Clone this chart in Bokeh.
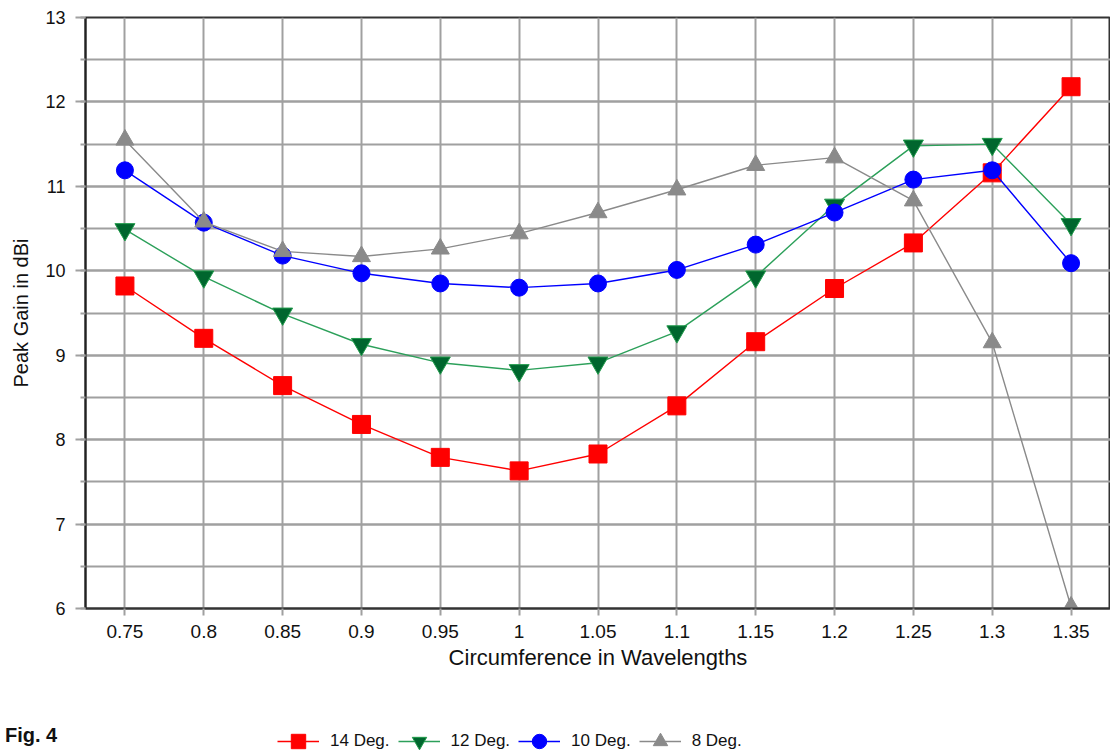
from bokeh.plotting import figure
from bokeh.layouts import column, row
from bokeh.models import (FactorRange, Range1d, SingleIntervalTicker, Legend, LegendItem,
                          ColumnDataSource, Div)
from bokeh.embed import file_html
from bokeh.resources import INLINE

categories = ["0.75", "0.8", "0.85", "0.9", "0.95", "1", "1.05", "1.1", "1.15", "1.2", "1.25", "1.3", "1.35"]
deg14 = [9.82, 9.20, 8.64, 8.18, 7.79, 7.63, 7.83, 8.40, 9.16, 9.79, 10.33, 11.16, 12.18]
deg12 = [10.49, 9.93, 9.49, 9.13, 8.91, 8.82, 8.91, 9.28, 9.93, 10.78, 11.48, 11.50, 10.55]
deg10 = [11.19, 10.57, 10.18, 9.97, 9.85, 9.80, 9.85, 10.01, 10.31, 10.69, 11.08, 11.19, 10.09]
deg8 = [11.55, 10.58, 10.23, 10.17, 10.26, 10.44, 10.69, 10.96, 11.25, 11.34, 10.83, 9.15, 6.02]
series_names = ["14 Deg.", "12 Deg.", "10 Deg.", "8 Deg."]
fig_caption = "Fig. 4"

FONT = "Liberation Sans"

p = figure(width=1110, height=690, output_backend="svg", toolbar_location=None,
           x_range=FactorRange(factors=categories), y_range=Range1d(6, 13),
           min_border_left=85, min_border_right=0, min_border_top=17, min_border_bottom=82)
p.background_fill_color = "white"
p.border_fill_color = "white"
p.outline_line_color = "#333333"
p.outline_line_width = 2

# grids
p.xgrid.grid_line_color = "#a0a0a0"
p.xgrid.grid_line_width = 2
p.ygrid.grid_line_color = "#a0a0a0"
p.ygrid.grid_line_width = 2
p.ygrid.minor_grid_line_color = "#a0a0a0"
p.ygrid.minor_grid_line_width = 2

# y axis
p.yaxis.ticker = SingleIntervalTicker(interval=1, num_minor_ticks=2)
p.yaxis.axis_line_color = "#222222"
p.yaxis.axis_line_width = 2
p.yaxis.major_tick_out = 10
p.yaxis.major_tick_in = 0
p.yaxis.minor_tick_out = 5
p.yaxis.minor_tick_in = 0
p.yaxis.major_tick_line_color = "#a0a0a0"
p.yaxis.minor_tick_line_color = "#a0a0a0"
p.yaxis.major_tick_line_width = 2
p.yaxis.minor_tick_line_width = 2
p.yaxis.major_label_standoff = 10
p.yaxis.major_label_text_font = FONT
p.yaxis.major_label_text_font_size = "18px"
p.yaxis.major_label_text_color = "#111111"
p.yaxis.axis_label = "Peak Gain in dBi"
p.yaxis.axis_label_text_font = FONT
p.yaxis.axis_label_text_font_size = "20px"
p.yaxis.axis_label_text_font_style = "normal"
p.yaxis.axis_label_text_color = "#111111"
p.yaxis.axis_label_standoff = 10

# x axis
p.xaxis.axis_line_color = "#333333"
p.xaxis.axis_line_width = 2
p.xaxis.major_tick_out = 7
p.xaxis.major_tick_in = 0
p.xaxis.major_tick_line_color = "#a0a0a0"
p.xaxis.major_tick_line_width = 2
p.xaxis.major_label_standoff = 9
p.xaxis.major_label_text_font = FONT
p.xaxis.major_label_text_font_size = "19px"
p.xaxis.major_label_text_color = "#111111"
p.xaxis.axis_label = "Circumference in Wavelengths"
p.xaxis.axis_label_text_font = FONT
p.xaxis.axis_label_text_font_size = "22px"
p.xaxis.axis_label_text_font_style = "normal"
p.xaxis.axis_label_text_color = "#111111"
p.xaxis.axis_label_standoff = 4

styles = [
    (deg14, "#ff0000", "square", "#ff0000", "#ff0000", 18),
    (deg12, "#2ca05a", "inverted_triangle", "#00662e", "#1f9a4a", 20),
    (deg10, "#0000ff", "circle", "#0000ff", "#0000ff", 17),
    (deg8, "#8a8a8a", "triangle", "#8a8a8a", "#8a8a8a", 18),
]

for vals, lc, mk, fc, mc, sz in styles:
    src = ColumnDataSource(dict(x=categories, y=vals))
    p.line("x", "y", source=src, line_color=lc, line_width=1.4)
    p.scatter("x", "y", source=src, marker=mk, size=sz, fill_color=fc, line_color=mc, line_width=1)

# bottom strip: caption (left) and legend strip (right)
cap = Div(text=('<div style="font-family: \'Liberation Sans Narrow\', \'Liberation Sans\', sans-serif; '
                'font-weight: bold; font-size: 20px; line-height: 20px; color: #111111; '
                'padding-top: 35px; padding-left: 5px; white-space: nowrap;">' + fig_caption + '</div>'),
          width=85, height=66, margin=0)

p2 = figure(width=1025, height=66, output_backend="svg", toolbar_location=None,
            x_range=Range1d(85, 1110), y_range=Range1d(0, 66),
            x_axis_location=None, y_axis_location=None,
            min_border_left=0, min_border_right=0, min_border_top=0, min_border_bottom=0)
p2.grid.visible = False
p2.outline_line_color = None
p2.background_fill_color = "white"
p2.border_fill_color = "white"

items = []
for name, (vals, lc, mk, fc, mc, sz) in zip(series_names, styles):
    src2 = ColumnDataSource(dict(x=[-500], y=[-500]))
    r1 = p2.line("x", "y", source=src2, line_color=lc, line_width=1.4)
    r2 = p2.scatter("x", "y", source=src2, marker=mk, size=sz, fill_color=fc, line_color=mc, line_width=1)
    items.append(LegendItem(label=name, renderers=[r1, r2]))

legend = Legend(items=items, orientation="horizontal", location=(192, -3),
                background_fill_alpha=0, border_line_alpha=0,
                label_text_font=FONT, label_text_font_size="17px", label_text_color="#111111",
                glyph_width=42, glyph_height=36, label_standoff=11, spacing=8, padding=0, margin=0)
p2.add_layout(legend, "center")

layout = column(p, row(cap, p2, spacing=0), spacing=0)
open("out.html", "w").write(file_html(layout, INLINE))
